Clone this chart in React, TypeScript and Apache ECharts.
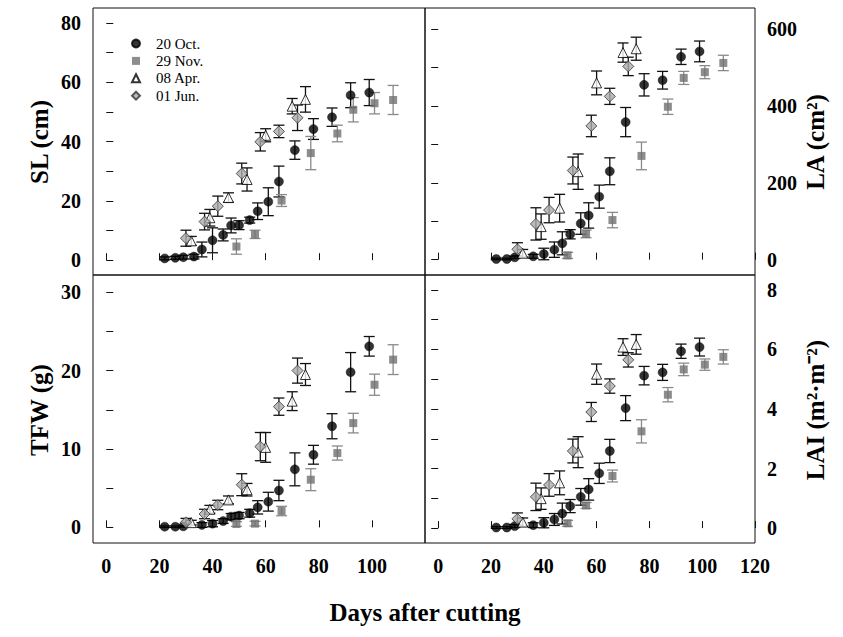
import React, { useEffect, useRef } from "react";
import * as echarts from "echarts";

// ---------- Data ----------
const octDays = [22, 26, 29, 33, 36, 40, 44, 47, 50, 54, 57, 61, 65, 71, 78, 85, 92, 99];
const novDays = [49, 56, 66, 77, 87, 93, 101, 108];
const aprDays = [32, 39, 46, 53, 60, 70, 75];
const junDays = [30, 37, 42, 51, 58, 65, 72];

const seriesNames = ["20 Oct.", "29 Nov.", "08 Apr.", "01 Jun."];

// SL (cm)
const slOct = [0.6, 0.8, 1.0, 1.2, 3.6, 6.7, 8.5, 11.7, 11.8, 13.5, 16.5, 19.7, 26.5, 37.1, 44.2, 48.2, 55.6, 56.5];
const slOctErr = [0.5, 0.5, 0.6, 0.8, 2.5, 4.2, 2.0, 2.5, 1.5, 1.0, 2.8, 4.7, 5.2, 3.1, 3.5, 3.1, 4.2, 4.4];
const slNov = [4.6, 8.7, 20.1, 36.1, 42.7, 50.7, 52.9, 54.0];
const slNovErr = [2.6, 1.4, 2.0, 5.6, 2.8, 4.1, 3.6, 4.9];
const slApr = [6.5, 14.3, 21.1, 27.2, 42.1, 51.9, 54.2];
const slAprErr = [1.5, 2.8, 1.6, 3.9, 2.2, 2.6, 4.3];
const slJun = [7.4, 13.0, 18.2, 29.2, 39.9, 43.4, 48.0];
const slJunErr = [2.7, 2.8, 3.4, 3.5, 3.1, 2.1, 4.3];

// LA (cm2)
const laOct = [1.7, 1.7, 6, null, 8.7, 14.7, 26, 42.5, 66, 94, 115, 164, 230, 358, 455, 467, 528, 542];
const laOctErr = [2, 2, 3, null, 5, 15, 20, 30, 12, 28, 33, 30, 35, 38, 29, 23, 20, 27];
const laNov = [11, 67, 103, 270, 398, 473, 488, 512];
const laNovErr = [8, 10, 20, 36, 20, 17, 17, 20];
const laApr = [16.5, 86, 134, 229, 460, 539, 549];
const laAprErr = [10, 33, 36, 46, 31, 25, 30];
const laJun = [27, 93, 129, 232, 348, 425, 503];
const laJunErr = [17, 42, 33, 35, 28, 21, 24];

// TFW (g)
const tfwOct = [0.08, 0.08, 0.13, null, 0.3, 0.47, 0.8, 1.36, 1.5, 1.8, 2.55, 3.27, 4.7, 7.4, 9.26, 12.9, 19.8, 23.1];
const tfwOctErr = [0.1, 0.1, 0.1, null, 0.3, 0.4, 0.3, 0.4, 0.4, 0.5, 0.85, 1.2, 1.3, 2.1, 1.2, 1.6, 2.5, 1.25];
const tfwNov = [0.42, 0.47, 2.08, 6.08, 9.48, 13.3, 18.2, 21.4];
const tfwNovErr = [0.3, 0.3, 0.6, 1.4, 0.9, 1.25, 1.35, 1.9];
const tfwApr = [0.6, 2.3, 3.5, 4.8, 10.2, 16.1, 19.5];
const tfwAprErr = [0.3, 0.5, 0.5, 0.8, 1.9, 1.2, 1.4];
const tfwJun = [0.64, 1.7, 2.85, 5.44, 10.3, 15.4, 20.0];
const tfwJunErr = [0.5, 0.6, 0.6, 1.4, 1.8, 1.1, 1.6];

// LAI (m2 m-2)
const laiOct = [0.02, 0.02, 0.07, null, 0.1, 0.18, 0.29, 0.49, 0.74, 1.05, 1.3, 1.84, 2.59, 4.03, 5.12, 5.23, 5.94, 6.08];
const laiOctErr = [0.03, 0.03, 0.05, null, 0.08, 0.17, 0.2, 0.35, 0.22, 0.28, 0.36, 0.34, 0.39, 0.42, 0.31, 0.27, 0.24, 0.3];
const laiNov = [0.16, 0.76, 1.75, 3.25, 4.48, 5.33, 5.49, 5.75];
const laiNovErr = [0.1, 0.1, 0.2, 0.39, 0.24, 0.21, 0.19, 0.24];
const laiApr = [0.2, 0.99, 1.52, 2.55, 5.17, 6.08, 6.17];
const laiAprErr = [0.14, 0.36, 0.4, 0.52, 0.34, 0.28, 0.33];
const laiJun = [0.31, 1.05, 1.45, 2.59, 3.9, 4.77, 5.65];
const laiJunErr = [0.2, 0.46, 0.38, 0.4, 0.32, 0.24, 0.24];

// Tick values
const xTicksLeft = [0, 20, 40, 60, 80, 100];
const xTicksRight = [0, 20, 40, 60, 80, 100, 120];
const slTicks = [0, 10, 20, 30, 40, 50, 60, 70, 80];
const slLabels = [0, 20, 40, 60, 80];
const laTicks = [0, 100, 200, 300, 400, 500, 600];
const laLabels = [0, 200, 400, 600];
const tfwTicks = [0, 5, 10, 15, 20, 25, 30];
const tfwLabels = [0, 10, 20, 30];
const laiTicks = [0, 1, 2, 3, 4, 5, 6, 7, 8];
const laiLabels = [0, 2, 4, 6, 8];

// ---------- Styles ----------
const FONT = "'Liberation Serif', 'Times New Roman', serif";
const symbolStyles = [
  { symbol: "circle", symbolSize: 9, itemStyle: { color: "#000", borderColor: "#000", borderWidth: 0.5 }, bar: "#111" },
  { symbol: "rect", symbolSize: 8, itemStyle: { color: "#707070", borderColor: "#707070", borderWidth: 0 }, bar: "#8a8a8a" },
  { symbol: "triangle", symbolSize: 10, itemStyle: { color: "#fff", borderColor: "#000", borderWidth: 1 }, bar: "#111" },
  { symbol: "diamond", symbolSize: 11, itemStyle: { color: "#aaaaaa", borderColor: "#333", borderWidth: 1 }, bar: "#111" },
];

const seriesDays = [octDays, novDays, aprDays, junDays];

const panels = [
  {
    grid: { left: 93, top: 8, width: 332, height: 267 },
    yMin: -5, yMax: 85, yTicks: slTicks, yLabels: slLabels, ySide: "left",
    xTicks: xTicksLeft, xLabels: null as number[] | null,
    vals: [slOct, slNov, slApr, slJun], errs: [slOctErr, slNovErr, slAprErr, slJunErr],
  },
  {
    grid: { left: 425, top: 8, width: 330, height: 267 },
    yMin: -40, yMax: 655, yTicks: laTicks, yLabels: laLabels, ySide: "right",
    xTicks: xTicksRight, xLabels: null as number[] | null,
    vals: [laOct, laNov, laApr, laJun], errs: [laOctErr, laNovErr, laAprErr, laJunErr],
  },
  {
    grid: { left: 93, top: 275, width: 332, height: 268 },
    yMin: -2, yMax: 32.2, yTicks: tfwTicks, yLabels: tfwLabels, ySide: "left",
    xTicks: xTicksLeft, xLabels: xTicksLeft,
    vals: [tfwOct, tfwNov, tfwApr, tfwJun], errs: [tfwOctErr, tfwNovErr, tfwAprErr, tfwJunErr],
  },
  {
    grid: { left: 425, top: 275, width: 330, height: 268 },
    yMin: -0.5, yMax: 8.5, yTicks: laiTicks, yLabels: laiLabels, ySide: "right",
    xTicks: xTicksRight, xLabels: xTicksRight,
    vals: [laiOct, laiNov, laiApr, laiJun], errs: [laiOctErr, laiNovErr, laiAprErr, laiJunErr],
  },
];

function buildOption() {
  const grids: any[] = [];
  const xAxes: any[] = [];
  const yAxes: any[] = [];
  const series: any[] = [];

  panels.forEach((p, i) => {
    grids.push({ ...p.grid, show: true, borderColor: "#111", borderWidth: 1, backgroundColor: "transparent", containLabel: false });
    xAxes.push({
      type: "value", gridIndex: i, min: -5, max: 120,
      axisLine: { show: false },
      splitLine: { show: false },
      axisTick: { show: true, inside: true, length: 7, customValues: p.xTicks, lineStyle: { color: "#111", width: 1 } },
      axisLabel: p.xLabels
        ? { show: true, customValues: p.xLabels, margin: 13, color: "#000", fontFamily: FONT, fontWeight: "bold", fontSize: 20 }
        : { show: false },
    });
    yAxes.push({
      type: "value", gridIndex: i, min: p.yMin, max: p.yMax, position: p.ySide,
      axisLine: { show: false },
      splitLine: { show: false },
      axisTick: { show: true, inside: true, length: 7, customValues: p.yTicks, lineStyle: { color: "#111", width: 1 } },
      axisLabel: { show: true, customValues: p.yLabels, margin: 12, color: "#000", fontFamily: FONT, fontWeight: "bold", fontSize: 20 },
    });

    for (let s = 0; s < 4; s++) {
      const days = seriesDays[s];
      const vals = p.vals[s];
      const errs = p.errs[s];
      const pts: number[][] = [];
      const barPts: number[][] = [];
      days.forEach((d, k) => {
        const v = vals[k];
        if (v === null || v === undefined) return;
        pts.push([d, v as number]);
        const e = errs[k];
        if (e !== null && e !== undefined) barPts.push([d, v as number, e as number]);
      });
      const st = symbolStyles[s];
      series.push({
        type: "custom",
        name: seriesNames[s] + " err",
        xAxisIndex: i, yAxisIndex: i,
        z: 2,
        silent: true,
        renderItem: (params: any, api: any) => {
          const x = api.value(0);
          const y = api.value(1);
          const e = api.value(2);
          const top = api.coord([x, y + e]);
          const bot = api.coord([x, y - e]);
          const w = 5.5;
          const style = { stroke: st.bar, lineWidth: 1.3 };
          return {
            type: "group",
            children: [
              { type: "line", shape: { x1: top[0], y1: top[1], x2: bot[0], y2: bot[1] }, style },
              { type: "line", shape: { x1: top[0] - w, y1: top[1], x2: top[0] + w, y2: top[1] }, style },
              { type: "line", shape: { x1: bot[0] - w, y1: bot[1], x2: bot[0] + w, y2: bot[1] }, style },
            ],
          };
        },
        data: barPts,
      });
      series.push({
        type: "scatter",
        name: seriesNames[s],
        xAxisIndex: i, yAxisIndex: i,
        z: 3,
        symbol: st.symbol,
        symbolSize: st.symbolSize,
        itemStyle: st.itemStyle,
        data: pts,
      });
    }
  });

  const titleStyle = { fontFamily: FONT, fontWeight: "bold", fontSize: 25, fill: "#000", align: "center", verticalAlign: "middle" };

  return {
    animation: false,
    backgroundColor: "#fff",
    grid: grids,
    xAxis: xAxes,
    yAxis: yAxes,
    legend: {
      data: seriesNames,
      orient: "vertical",
      left: 126,
      top: 31,
      itemWidth: 8,
      itemHeight: 8,
      itemGap: 2.4,
      selectedMode: false,
      textStyle: { fontFamily: FONT, fontSize: 15, color: "#000", padding: [0, 0, 0, 11] },
    },
    graphic: [
      { type: "text", x: 39, y: 142, rotation: Math.PI / 2, style: { ...titleStyle, text: "SL (cm)" } },
      { type: "text", x: 39, y: 410, rotation: Math.PI / 2, style: { ...titleStyle, text: "TFW (g)" } },
      { type: "text", x: 815, y: 142, rotation: Math.PI / 2, style: { ...titleStyle, text: "LA (cm²)" } },
      { type: "text", x: 815, y: 410, rotation: Math.PI / 2, style: { ...titleStyle, text: "LAI (m²·m⁻²)" } },
      { type: "text", x: 425, y: 612, style: { ...titleStyle, text: "Days after cutting" } },
    ],
    series,
  };
}

export default function App() {
  const ref = useRef<HTMLDivElement>(null);
  useEffect(() => {
    if (!ref.current) return;
    const chart = echarts.init(ref.current, null, { renderer: "svg" });
    chart.setOption(buildOption() as any);
    return () => chart.dispose();
  }, []);
  return (
    <div
      ref={ref}
      style={{ position: "fixed", left: 0, top: 0, width: 843, height: 637, background: "#fff" }}
    />
  );
}
